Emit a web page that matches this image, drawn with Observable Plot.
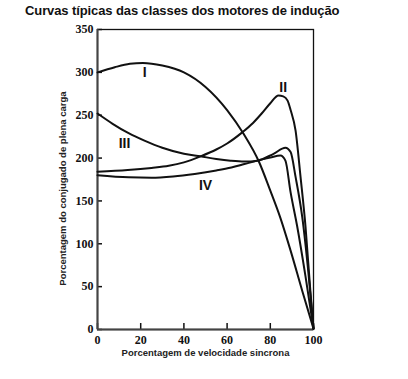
<!DOCTYPE html>
<html>
<head>
<meta charset="utf-8">
<script src="https://cdn.jsdelivr.net/npm/d3@7"></script>
<script src="https://cdn.jsdelivr.net/npm/@observablehq/plot@0.6"></script>
<style>
  html, body { margin: 0; padding: 0; background: #fff; }
  #wrap { position: relative; width: 408px; height: 379px; }
  #title { position: absolute; left: 25px; top: 3px; font-family: "Liberation Sans", Arial, sans-serif;
           font-weight: bold; font-size: 13px; letter-spacing: -0.1px; color: #111; white-space: nowrap; }
</style>
</head>
<body>
<div id="wrap"><div id="title">Curvas típicas das classes dos motores de indução</div></div>
<script>
const titleText = "Curvas típicas das classes dos motores de indução";
const xLabel = "Porcentagem de velocidade sincrona";
const yLabel = "Porcentagem do conjugado de plena carga";
const xTicks = [0, 20, 40, 60, 80, 100];
const yTicks = [0, 50, 100, 150, 200, 250, 300, 350];

// Curve I
const speedI  = [0, 8, 15, 21, 30, 40, 50, 60, 67.7, 74.7, 80, 84.7, 89.4, 94.8, 100];
const torqueI = [300, 306, 310, 311, 308, 300, 283, 256, 228, 196, 162, 130, 92, 45, 1];
// Curve II
const speedII  = [0, 14, 25, 33, 40, 47.7, 55, 60, 67, 72, 76, 80, 83.8, 86, 88, 89.4, 91.7, 94, 96.3, 98.6, 100];
const torqueII = [184, 186, 188.5, 191, 195, 202, 210, 217, 230, 241, 252, 264, 273, 272, 267, 256, 232, 178, 120, 43, 1];
// Curve III
const speedIII  = [0, 7, 14.4, 22, 30, 40, 47.7, 55, 61.6, 68, 74, 81.5, 87, 89.4, 91.7, 94.8, 97.8, 100];
const torqueIII = [252, 240, 229, 220, 212, 205, 202, 199, 197, 196, 197, 205, 212, 207, 178, 131, 62, 1];
// Curve IV
const speedIV  = [0, 14.4, 25, 35, 45, 55, 62, 68, 74, 80, 84.7, 87, 89.4, 92.4, 96.3, 100];
const torqueIV = [180, 177.5, 177, 178.5, 181.5, 185.5, 189, 193, 197, 200.5, 203, 197, 160, 121, 62, 1];

const curveNames = ["I", "II", "III", "IV"];
const labelX = [21.8, 86, 12.5, 50];
const labelY = [300, 282, 217, 168];

const series = [
  [speedI, torqueI], [speedII, torqueII], [speedIII, torqueIII], [speedIV, torqueIV]
];
const rows = series.flatMap(([xs, ys], i) => xs.map((x, j) => ({curve: curveNames[i], x, y: ys[j]})));
const labels = curveNames.map((n, i) => ({n, x: labelX[i], y: labelY[i]}));

const serif = "'Liberation Serif', 'Times New Roman', serif";
const sans = "'Liberation Sans', Arial, sans-serif";

const chart = Plot.plot({
  width: 408,
  height: 379,
  marginLeft: 97,
  marginRight: 95,
  marginTop: 29,
  marginBottom: 50,
  style: {background: "white", color: "#111"},
  x: {domain: [0, 100]},
  y: {domain: [0, 350]},
  marks: [
    Plot.frame({stroke: "#111", strokeWidth: 1.3}),
    Plot.axisY({ticks: yTicks, tickSize: -5, tickPadding: 9, label: null,
      fontFamily: serif, fontWeight: "bold", fontSize: 12, strokeWidth: 1.5}),
    Plot.axisX({ticks: xTicks, tickSize: -6, tickPadding: 12, label: null,
      fontFamily: serif, fontWeight: "bold", fontSize: 12, strokeWidth: 1.5}),
    Plot.ruleX([0], {stroke: "#444", strokeWidth: 2}),
    Plot.ruleY([0], {stroke: "#444", strokeWidth: 2}),
    Plot.line(rows, {x: "x", y: "y", z: "curve", stroke: "#111", strokeWidth: 2, curve: "monotone-x"}),
    Plot.text(labels, {x: "x", y: "y", text: "n", fontFamily: sans, fontWeight: "bold", fontSize: 14, fill: "#111"}),
    Plot.text([xLabel], {frameAnchor: "bottom", dy: 26, fontFamily: sans, fontWeight: "bold", fontSize: 9.5, fill: "#222"}),
    Plot.text([yLabel], {frameAnchor: "left", textAnchor: "middle", dx: -35, dy: 9, rotate: -90, fontFamily: sans, fontWeight: "bold", fontSize: 9.5, fill: "#222"})
  ]
});
document.getElementById("wrap").prepend(chart);
chart.style.position = "absolute";
chart.style.left = "0";
chart.style.top = "0";
</script>
</body>
</html>
